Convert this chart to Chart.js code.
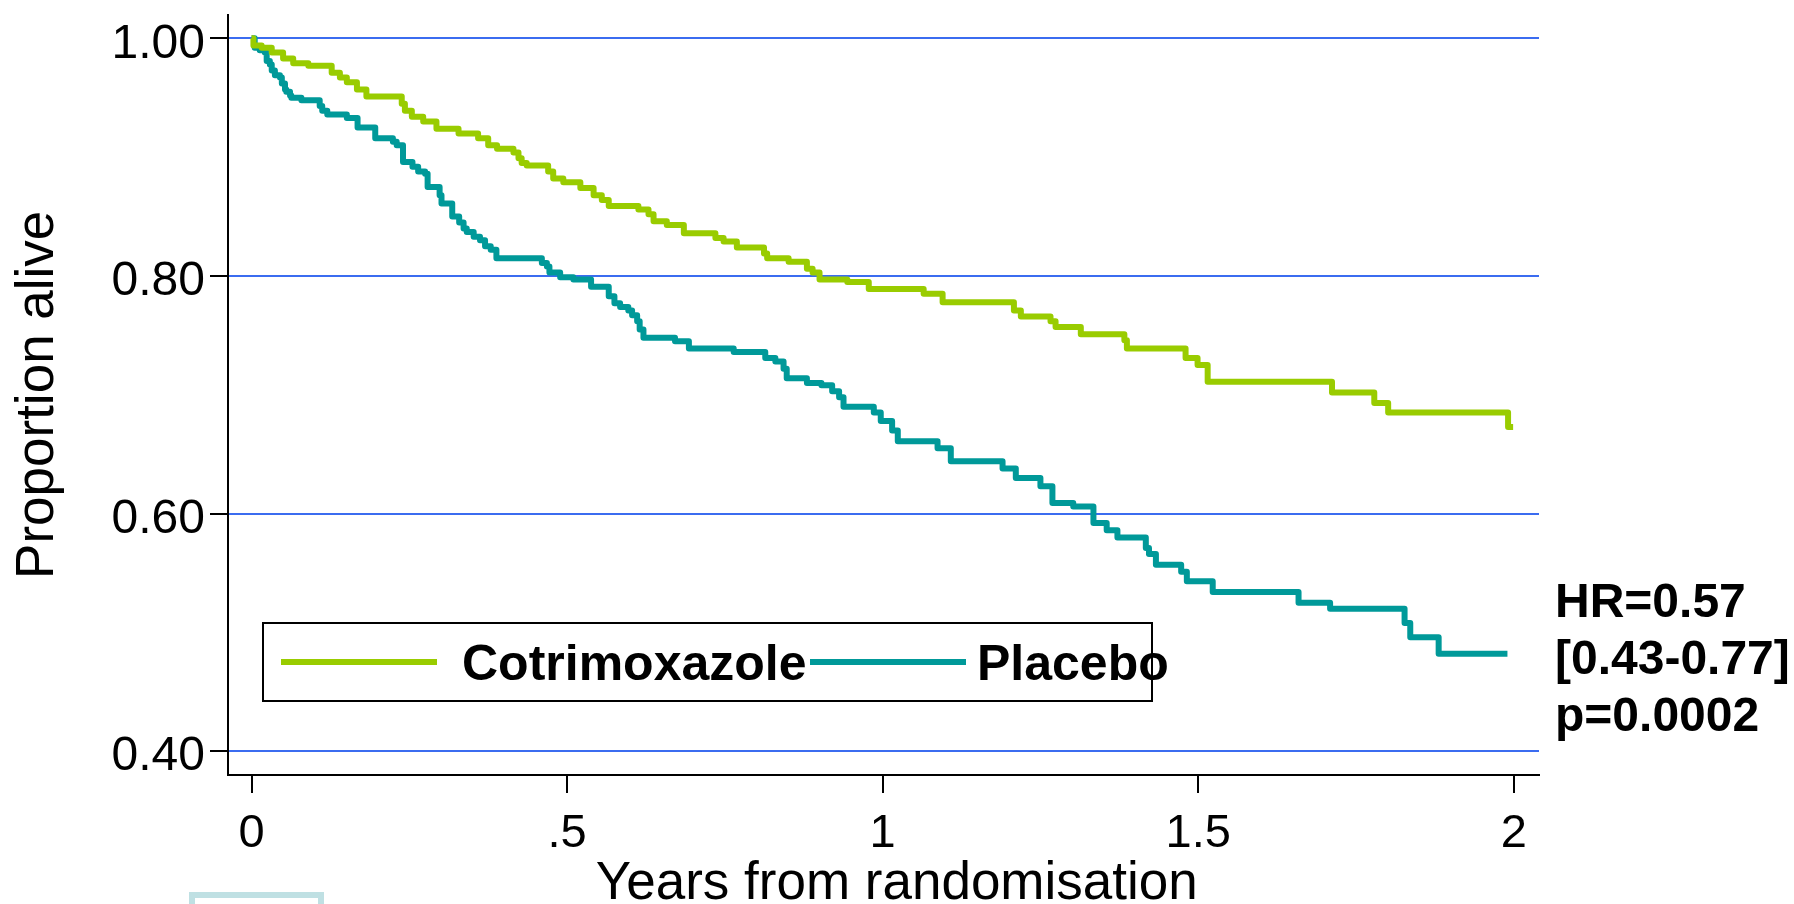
<!DOCTYPE html>
<html>
<head>
<meta charset="utf-8">
<script src="https://cdn.jsdelivr.net/npm/chart.js@4.4.1/dist/chart.umd.min.js"></script>
<style>
  body { margin: 0; background: #fff; }
  #wrap { position: relative; width: 1794px; height: 904px; overflow: hidden; font-family: 'Liberation Sans', Arial, sans-serif; }
  #myChart { position: absolute; left: 0; top: 0; }
  #legend { position: absolute; left: 262px; top: 622px; width: 891px; height: 80px; box-sizing: border-box; border: 2px solid #000; }
  #legend .key { position: absolute; top: 35px; height: 6px; }
  #legend .lab { position: absolute; top: 14px; font-weight: bold; font-size: 50px; line-height: 50px; color: #000; white-space: nowrap; }
  #stats { position: absolute; left: 1555px; top: 572px; font-weight: bold; font-size: 48px; line-height: 57px; color: #000; white-space: nowrap; }
  #blip { position: absolute; left: 189px; top: 892px; width: 135px; height: 40px; box-sizing: border-box; border: 6px solid #bfe0e3; }
</style>
</head>
<body>
<div id="wrap">
  <canvas id="myChart" width="1794" height="904"></canvas>
  <div id="legend"></div>
  <div id="stats"></div>
  <div id="blip"></div>
</div>
<script>
var seriesNames = ['Cotrimoxazole', 'Placebo'];
var seriesColors = ['#99cc00', '#009999'];

// Kaplan-Meier steps: time of each drop (years) and proportion alive after it
var cotrimYears = [0, 0.003, 0.016, 0.032, 0.050, 0.066, 0.090, 0.127, 0.140, 0.151, 0.167, 0.182, 0.238, 0.243, 0.254, 0.272, 0.293, 0.328, 0.359, 0.375, 0.389, 0.415, 0.423, 0.428, 0.436, 0.470, 0.478, 0.494, 0.521, 0.542, 0.555, 0.566, 0.613, 0.629, 0.637, 0.658, 0.685, 0.735, 0.748, 0.769,
  0.812, 0.817, 0.851, 0.880, 0.889, 0.900, 0.944, 0.978, 1.065, 1.095, 1.208, 1.219, 1.266, 1.274, 1.314, 1.383, 1.387, 1.480, 1.499, 1.515, 1.712, 1.779, 1.801, 1.991, 1.999];
var cotrimAlive = [1.000, 0.994, 0.992, 0.988, 0.983, 0.979, 0.977, 0.971, 0.967, 0.963, 0.957, 0.951, 0.945, 0.939, 0.934, 0.930, 0.924, 0.920, 0.916, 0.910, 0.907, 0.904, 0.899, 0.895, 0.893, 0.888, 0.882, 0.879, 0.874, 0.868, 0.864, 0.859, 0.856, 0.852, 0.846, 0.843, 0.836, 0.832, 0.829, 0.824,
  0.819, 0.815, 0.812, 0.806, 0.803, 0.797, 0.795, 0.789, 0.785, 0.778, 0.771, 0.766, 0.762, 0.757, 0.751, 0.746, 0.739, 0.731, 0.725, 0.711, 0.702, 0.693, 0.685, 0.673, 0.673];

var placeboYears = [0, 0.005, 0.013, 0.021, 0.024, 0.029, 0.032, 0.037, 0.045, 0.048, 0.053, 0.055, 0.061, 0.063, 0.079, 0.108, 0.112, 0.120, 0.151, 0.168, 0.196, 0.224, 0.230, 0.240, 0.255, 0.264, 0.275, 0.279, 0.298, 0.301, 0.318, 0.329, 0.336, 0.341, 0.352, 0.362, 0.370, 0.379, 0.388,
  0.460, 0.468, 0.472, 0.489, 0.510, 0.538, 0.566, 0.575, 0.584, 0.597, 0.603, 0.611, 0.615, 0.621, 0.671, 0.693, 0.764,
  0.814, 0.830, 0.843, 0.848, 0.880, 0.903, 0.920, 0.931, 0.938, 0.986, 0.997, 1.015, 1.024, 1.087, 1.108, 1.190, 1.211, 1.250, 1.269, 1.302, 1.334, 1.355, 1.372, 1.417, 1.422, 1.433, 1.473, 1.482, 1.523,
  1.659, 1.709, 1.827, 1.836, 1.881, 1.990];
var placeboAlive = [1.000, 0.992, 0.990, 0.988, 0.981, 0.978, 0.973, 0.969, 0.967, 0.962, 0.957, 0.955, 0.952, 0.950, 0.948, 0.943, 0.939, 0.936, 0.933, 0.925, 0.916, 0.913, 0.910, 0.896, 0.892, 0.888, 0.886, 0.875, 0.868, 0.861, 0.850, 0.845, 0.840, 0.837, 0.833, 0.830, 0.825, 0.822, 0.815,
  0.811, 0.808, 0.803, 0.799, 0.797, 0.791, 0.783, 0.777, 0.774, 0.771, 0.767, 0.762, 0.755, 0.748, 0.745, 0.739, 0.736,
  0.731, 0.728, 0.722, 0.714, 0.710, 0.708, 0.703, 0.698, 0.690, 0.685, 0.678, 0.670, 0.661, 0.655, 0.644, 0.638, 0.630, 0.623, 0.609, 0.606, 0.592, 0.586, 0.580, 0.571, 0.566, 0.557, 0.551, 0.543, 0.534,
  0.525, 0.520, 0.508, 0.496, 0.482, 0.482];

var xTickValues = [0, 0.5, 1, 1.5, 2];
var xTickLabels = ['0', '.5', '1', '1.5', '2'];
var yTickValues = [0.4, 0.6, 0.8, 1.0];
var yTickLabels = ['0.40', '0.60', '0.80', '1.00'];
var statsLines = ['HR=0.57', '[0.43-0.77]', 'p=0.0002'];


function toPoints(xs, ys) {
  var pts = [];
  for (var i = 0; i < xs.length; i++) {
    pts.push({x: xs[i], y: ys[i]});
  }
  return pts;
}


function makeChart() {
  Chart.defaults.font.family = "'Liberation Sans', Arial, sans-serif";
  Chart.defaults.color = '#000';

  var ctx = document.getElementById('myChart').getContext('2d');
  return new Chart(ctx, {
    type: 'line',
    data: {
      datasets: [
        { label: seriesNames[0], data: toPoints(cotrimYears, cotrimAlive), borderColor: seriesColors[0] },
        { label: seriesNames[1], data: toPoints(placeboYears, placeboAlive), borderColor: seriesColors[1] }
      ]
    },
    options: {
      responsive: false,
      animation: false,
      layout: { padding: { top: 12, right: 255, left: 0, bottom: 0 } },
      plugins: { legend: { display: false }, tooltip: { enabled: false } },
      elements: {
        point: { radius: 0 },
        line: { borderWidth: 6, stepped: 'before', tension: 0, borderJoinStyle: 'round', fill: false }
      },
      scales: {
        x: {
          type: 'linear',
          min: -0.0373,
          max: 2.04,
          afterBuildTicks: function(s) { s.ticks = xTickValues.map(function(v) { return {value: v}; }); },
          afterFit: function(s) { s.height = 129; },
          ticks: {
            callback: function(v, i) { return xTickLabels[i]; },
            font: { size: 47 },
            padding: 13,
            maxRotation: 0,
            autoSkip: false
          },
          grid: { drawOnChartArea: false, tickLength: 18, tickColor: '#000', lineWidth: 2 },
          border: { color: '#000', width: 2 },
          title: {
            display: true,
            text: '\u2002Years from randomisation',
            font: { size: 53, lineHeight: 0.8 },
            padding: { top: 0, bottom: -2 }
          }
        },
        y: {
          type: 'linear',
          min: 0.38,
          max: 1.02,
          afterBuildTicks: function(s) { s.ticks = yTickValues.map(function(v) { return {value: v}; }); },
          afterFit: function(s) { s.width = 228; },
          ticks: {
            callback: function(v, i) { return yTickLabels[i]; },
            font: { size: 48, lineHeight: 0.4 },
            padding: 5,
            labelOffset: 6,
            autoSkip: false
          },
          grid: { color: '#3b6cf0', lineWidth: 2, tickLength: 18, tickColor: '#000' },
          border: { color: '#000', width: 2 },
          title: {
            display: true,
            text: 'Proportion alive',
            font: { size: 53, lineHeight: 1.2 },
            padding: { top: 7, bottom: 0 }
          }
        }
      }
    }
  });
}


function makeLegend() {
  var keyLeft = [17, 546];
  var labLeft = [198, 713];
  var html = '';
  for (var i = 0; i < seriesNames.length; i++) {
    html += "<div class='key' style='left:" + keyLeft[i] + "px;width:156px;background:" + seriesColors[i] + "'></div>";
    html += "<div class='lab' style='left:" + labLeft[i] + "px'>" + seriesNames[i] + "</div>";
  }
  document.getElementById('legend').innerHTML = html;
  document.getElementById('stats').innerHTML = statsLines.join('<br>');
}

makeChart();
makeLegend();
</script>
</body>
</html>
